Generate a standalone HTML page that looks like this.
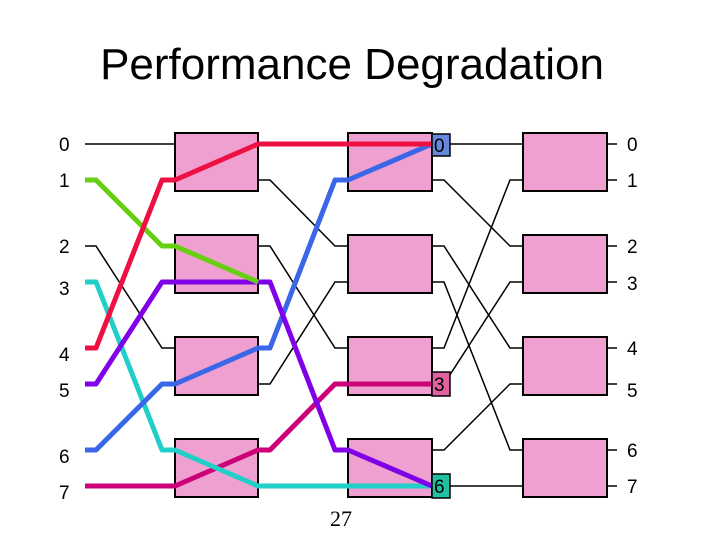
<!DOCTYPE html>
<html><head><style>body{margin:0;background:#fff}svg{display:block}</style></head><body>
<svg width="720" height="540" xmlns="http://www.w3.org/2000/svg" font-family="Liberation Sans, sans-serif">
<text x="352" y="79" font-size="44" text-anchor="middle">Performance Degradation</text>
<g fill="#f0a0d0" stroke="#000" stroke-width="2">
<rect x="175" y="133" width="83" height="58"/><rect x="175" y="235" width="83" height="58"/><rect x="175" y="337" width="83" height="58"/><rect x="175" y="439" width="83" height="58"/>
<rect x="348" y="133" width="84" height="58"/><rect x="348" y="235" width="84" height="58"/><rect x="348" y="337" width="84" height="58"/><rect x="348" y="439" width="84" height="58"/>
<rect x="523" y="133" width="84" height="58"/><rect x="523" y="235" width="84" height="58"/><rect x="523" y="337" width="84" height="58"/><rect x="523" y="439" width="84" height="58"/>
</g>
<g fill="none" stroke="#000" stroke-width="1.5">
<path d="M85 144H175"/><path d="M85 246H96L162 348H175"/>
<path d="M258 180H270L335 246H348"/><path d="M258 246H270L335 348H348"/><path d="M258 384H270L335 282H348"/>
<path d="M432 144H523"/><path d="M432 180H444L510 246H523"/><path d="M432 246H444L510 348H523"/><path d="M432 282H444L510 450H523"/><path d="M432 348H444L510 180H523"/><path d="M432 384H444L510 282H523"/><path d="M432 450H444L510 384H523"/><path d="M432 486H523"/>
<path d="M607 144H617M607 180H617M607 246H617M607 282H617M607 348H617M607 384H617M607 450H617M607 486H617"/>
</g>
<g fill="none" stroke-width="5" stroke-linejoin="round">
<path stroke="#cc0077" d="M85 486H175L258 450H270L335 384H432"/>
<path stroke="#20d0c8" d="M85 282H96L162 450H175L258 486H432"/>
<path stroke="#3a66e8" d="M85 450H96L162 384H175L258 348H270L335 180H348L432 144"/>
<path stroke="#8000e8" d="M85 384H96L162 282H270L335 450H348L432 486"/>
<path stroke="#66d010" d="M85 180H96L162 246H175L258 282"/>
<path stroke="#ee1040" d="M85 348H96L162 180H175L258 144H432"/>
</g>
<g stroke="#000" stroke-width="1.5">
<rect x="432" y="134" width="18" height="22" fill="#6688dd"/>
<rect x="432" y="372" width="18" height="24" fill="#e060a0"/>
<rect x="432" y="474" width="18" height="24" fill="#20c0a0"/>
</g>
<g font-size="19" fill="#000">
<text x="434" y="152">0</text><text x="434" y="391">3</text><text x="434" y="493">6</text>
<text x="59" y="151">0</text><text x="59" y="187">1</text><text x="59" y="253">2</text><text x="59" y="295">3</text><text x="59" y="361">4</text><text x="59" y="397">5</text><text x="59" y="463">6</text><text x="59" y="499">7</text>
<text x="627" y="151">0</text><text x="627" y="187">1</text><text x="627" y="253">2</text><text x="627" y="290">3</text><text x="627" y="355">4</text><text x="627" y="397">5</text><text x="627" y="457">6</text><text x="627" y="493">7</text>
</g>
<text x="341" y="526" font-size="22" font-family="Liberation Serif, serif" text-anchor="middle">27</text>
</svg>
</body></html>
